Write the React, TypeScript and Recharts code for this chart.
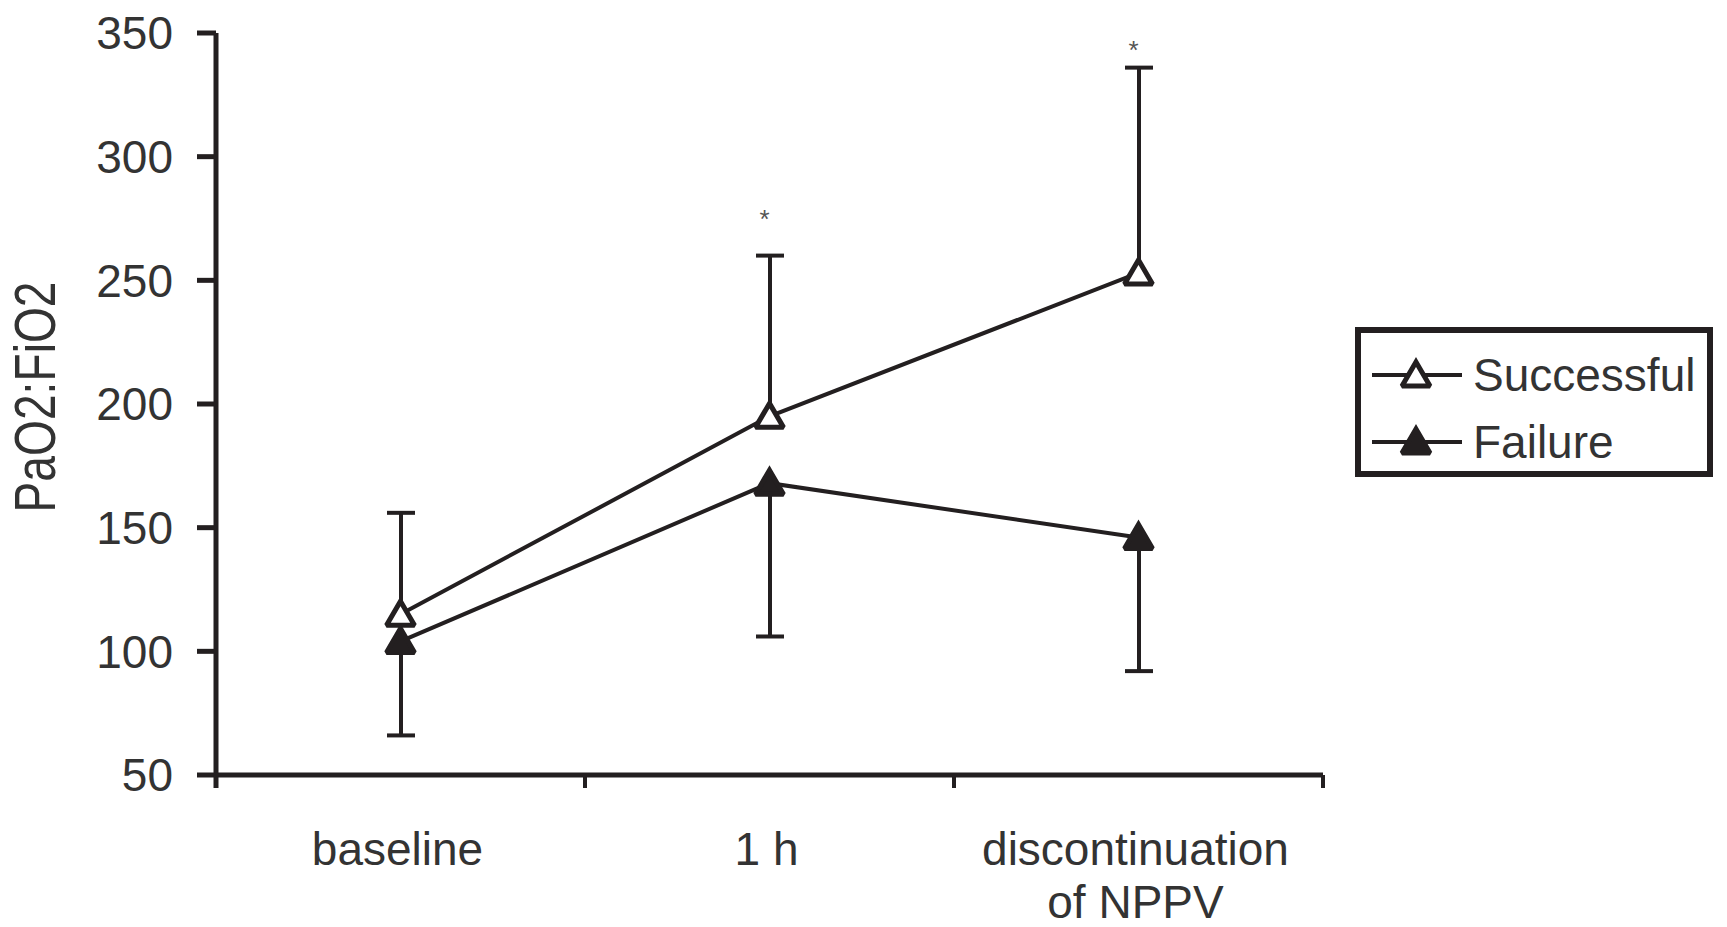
import React from 'react';
import { ComposedChart, Line, Bar, XAxis, YAxis, Legend } from 'recharts';

const categories = ['baseline', '1 h', 'discontinuation of NPPV'];
const categoryLines = [['baseline'], ['1 h'], ['discontinuation', 'of NPPV']];
const successfulMean = [115, 195, 253];
const successfulSD = [41, 65, 83];
const failureMean = [104, 168, 146];
const failureSD = [38, 62, 54];
const significanceY = [null, 277, 345];
const yTicks = [50, 100, 150, 200, 250, 300, 350];
const legendOrder = ['successful', 'failure'];

const INK = '#231f20';
const TEXT = '#333333';
const FONT = '"Liberation Sans", Arial, Helvetica, sans-serif';

const data = categories.map((c, i) => ({
  category: c,
  successful: successfulMean[i],
  successfulRange: [successfulMean[i], successfulMean[i] + successfulSD[i]],
  failure: failureMean[i],
  failureRange: [failureMean[i] - failureSD[i], failureMean[i]],
  sig: significanceY[i],
}));

const triPath = (cx: number, cy: number) =>
  `M${cx},${cy - 13} L${cx + 14},${cy + 11} L${cx - 14},${cy + 11} Z`;

const makeTriangle = (filled: boolean) => (props: any) => {
  const { cx, cy, index } = props;
  if (cx == null || cy == null) return <g key={`t-${index}`} />;
  return (
    <path
      key={`t-${index}`}
      d={triPath(cx, cy)}
      fill={filled ? INK : '#ffffff'}
      stroke={INK}
      strokeWidth={5}
      strokeLinejoin="miter"
      strokeMiterlimit={2}
    />
  );
};

const makeErrShape = (capAt: 'top' | 'bottom') => (props: any) => {
  const { x, y, width, height } = props;
  if (x == null || y == null || !Number.isFinite(height)) return <g />;
  const mx = x + width / 2;
  const capY = capAt === 'top' ? y : y + height;
  return (
    <g>
      <line x1={mx} y1={y} x2={mx} y2={y + height} stroke={INK} strokeWidth={4} />
      <line x1={x} y1={capY} x2={x + width} y2={capY} stroke={INK} strokeWidth={4} />
    </g>
  );
};

const renderStar = (props: any) => {
  const { cx, cy, index } = props;
  if (cx == null || cy == null || Number.isNaN(cy)) return <g key={`s-${index}`} />;
  return (
    <text
      key={`s-${index}`}
      x={cx - 5}
      y={cy + 14}
      textAnchor="middle"
      fontSize={26}
      fill="#555"
      fontFamily={FONT}
    >
      *
    </text>
  );
};

const XTick = (props: any) => {
  const { x, y, payload } = props;
  const idx = categories.indexOf(payload.value);
  const half = payload.offset ?? 0;
  const lines = categoryLines[idx] || [String(payload.value)];
  return (
    <g>
      <line x1={x + half} y1={y} x2={x + half} y2={y + 13} stroke={INK} strokeWidth={4} />
      {idx === 0 && (
        <line x1={x - half} y1={y} x2={x - half} y2={y + 13} stroke={INK} strokeWidth={5} />
      )}
      {lines.map((t, i) => (
        <text
          key={i}
          x={x - 3}
          y={y + 90 + i * 53}
          textAnchor="middle"
          fontSize={46}
          fill={TEXT}
          fontFamily={FONT}
        >
          {t}
        </text>
      ))}
    </g>
  );
};

const YLabel = (props: any) => {
  const vb = props.viewBox || { x: 0, y: 0, width: 0, height: 0 };
  const cx = vb.x + 34;
  const cy = vb.y + vb.height / 2 - 7;
  return (
    <text
      x={cx}
      y={cy}
      transform={`rotate(-90 ${cx} ${cy})`}
      textAnchor="middle"
      dominantBaseline="central"
      fontSize={58}
      textLength={231}
      lengthAdjust="spacingAndGlyphs"
      fill={TEXT}
      fontFamily={FONT}
    >
      PaO2:FiO2
    </text>
  );
};

const LegendBox = (props: any) => {
  const items = (props.payload || [])
    .filter((p: any) => legendOrder.includes(p.dataKey))
    .sort((a: any, b: any) => legendOrder.indexOf(a.dataKey) - legendOrder.indexOf(b.dataKey));
  const rowCenters = [42, 109];
  return (
    <div
      style={{
        width: 358,
        height: 150,
        boxSizing: 'border-box',
        border: `6px solid ${INK}`,
        background: '#fff',
        position: 'relative',
        fontFamily: FONT,
      }}
    >
      {items.map((it: any, i: number) => (
        <div
          key={it.value}
          style={{
            position: 'absolute',
            left: 11,
            top: rowCenters[i] - 20,
            height: 40,
            display: 'flex',
            alignItems: 'center',
            whiteSpace: 'nowrap',
          }}
        >
          <svg width={90} height={40} style={{ display: 'block' }}>
            <line x1={0} y1={20} x2={90} y2={20} stroke={INK} strokeWidth={4} />
            <path
              d={triPath(44, 20)}
              fill={it.dataKey === 'failure' ? INK : '#fff'}
              stroke={INK}
              strokeWidth={5}
              strokeMiterlimit={2}
            />
          </svg>
          <span style={{ marginLeft: 11, fontSize: 46, color: TEXT, lineHeight: '40px' }}>{it.value}</span>
        </div>
      ))}
    </div>
  );
};

export default function App() {
  return (
    <div style={{ position: 'absolute', left: 0, top: 0, background: '#fff' }}>
      <ComposedChart
        width={1727}
        height={927}
        data={data}
        margin={{ top: 33, right: 404, bottom: 0, left: 0 }}
        barSize={28}
        barGap={-28}
      >
        <XAxis
          dataKey="category"
          scale="band"
          interval={0}
          height={152}
          tickSize={0}
          tickMargin={0}
          tickLine={false}
          axisLine={{ stroke: INK, strokeWidth: 5 }}
          tick={<XTick />}
        />
        <YAxis
          width={216}
          domain={[50, 350]}
          ticks={yTicks}
          interval={0}
          tickSize={19}
          tickMargin={24}
          axisLine={{ stroke: INK, strokeWidth: 5 }}
          tickLine={{ stroke: INK, strokeWidth: 5 }}
          tick={{ fontSize: 46, fill: TEXT, fontFamily: FONT }}
          label={<YLabel />}
        />
        <Legend
          layout="horizontal"
          verticalAlign="middle"
          align="center"
          wrapperStyle={{ left: 1355, top: 327, width: 358, height: 150 }}
          content={<LegendBox />}
        />
        <Bar
          dataKey="successfulRange"
          legendType="none"
          isAnimationActive={false}
          shape={makeErrShape('top')}
        />
        <Bar
          dataKey="failureRange"
          legendType="none"
          isAnimationActive={false}
          shape={makeErrShape('bottom')}
        />
        <Line
          dataKey="successful"
          name="Successful"
          stroke={INK}
          strokeWidth={4}
          isAnimationActive={false}
          dot={makeTriangle(false)}
          activeDot={false}
        />
        <Line
          dataKey="failure"
          name="Failure"
          stroke={INK}
          strokeWidth={4}
          isAnimationActive={false}
          dot={makeTriangle(true)}
          activeDot={false}
        />
        <Line
          dataKey="sig"
          name="sig"
          stroke="none"
          legendType="none"
          isAnimationActive={false}
          dot={renderStar}
          activeDot={false}
        />
      </ComposedChart>
    </div>
  );
}
